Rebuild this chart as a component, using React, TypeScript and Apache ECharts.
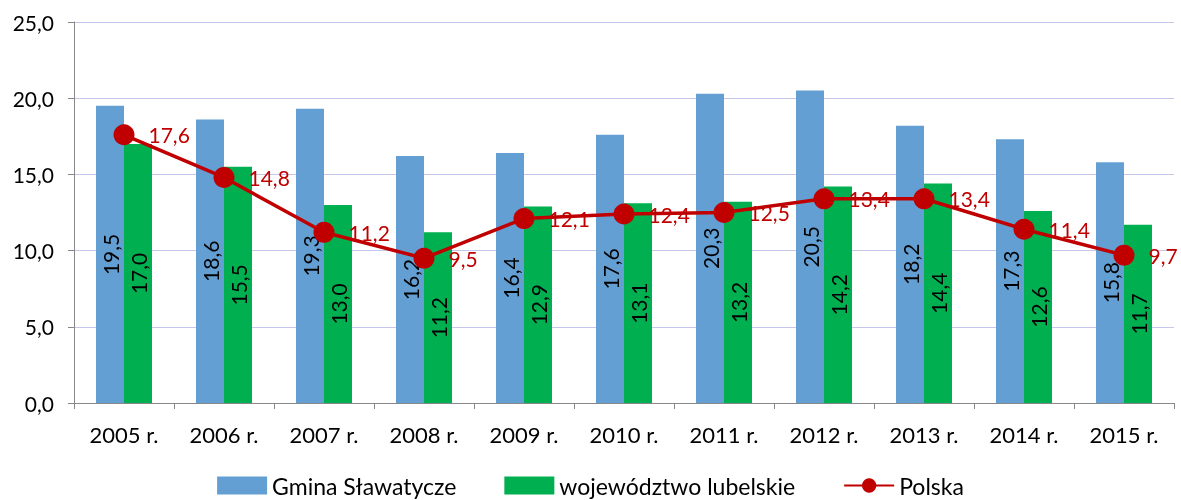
import React, { useEffect, useRef } from "react";
import * as echarts from "echarts";

const categories = ["2005 r.", "2006 r.", "2007 r.", "2008 r.", "2009 r.", "2010 r.", "2011 r.", "2012 r.", "2013 r.", "2014 r.", "2015 r."];
const gmina = [19.5, 18.6, 19.3, 16.2, 16.4, 17.6, 20.3, 20.5, 18.2, 17.3, 15.8];
const wojewodztwo = [17.0, 15.5, 13.0, 11.2, 12.9, 13.1, 13.2, 14.2, 14.4, 12.6, 11.7];
const polska = [17.6, 14.8, 11.2, 9.5, 12.1, 12.4, 12.5, 13.4, 13.4, 11.4, 9.7];

const fmt = (v: number) => v.toFixed(1).replace(".", ",");
const FONT = "Lato, 'Open Sans', sans-serif";

export default function App() {
  const ref = useRef<HTMLDivElement>(null);
  useEffect(() => {
    if (!ref.current) return;
    const chart = echarts.init(ref.current, null, { renderer: "svg" });
    const barLabel = {
      show: true,
      position: "inside",
      rotate: 90,
      color: "#000",
      fontSize: 21,
      fontFamily: FONT,
      formatter: (p: any) => fmt(p.value),
    };
    chart.setOption({
      animation: false,
      textStyle: { fontFamily: FONT },
      grid: { left: 74, right: 7, top: 22, bottom: 97, containLabel: false },
      legend: {
        top: 474,
        left: "center",
        padding: 0,
        itemWidth: 50,
        itemHeight: 18,
        itemGap: 48,
        textStyle: { fontSize: 23, color: "#000", fontFamily: FONT },
        data: [
          { name: "Gmina Sławatycze", icon: "rect" },
          { name: "województwo lubelskie", icon: "rect" },
          { name: "Polska" },
        ],
      },
      xAxis: {
        type: "category",
        data: categories,
        axisLine: { lineStyle: { color: "#888", width: 1 } },
        axisTick: { show: true, length: 6, lineStyle: { color: "#888" } },
        axisLabel: { color: "#000", fontSize: 22, margin: 20, fontFamily: FONT },
      },
      yAxis: {
        type: "value",
        min: 0,
        max: 25,
        interval: 5,
        axisLine: { show: true, lineStyle: { color: "#888", width: 1 } },
        axisTick: { show: true, length: 6, lineStyle: { color: "#888" } },
        axisLabel: { color: "#000", fontSize: 21, margin: 20, formatter: (v: number) => fmt(v), fontFamily: FONT },
        splitLine: { lineStyle: { color: "#C6C6EC", width: 1 } },
      },
      series: [
        {
          name: "Gmina Sławatycze",
          type: "bar",
          data: gmina,
          barWidth: 28,
          barGap: "0%",
          itemStyle: { color: "#639FD3" },
          label: barLabel,
        },
        {
          name: "województwo lubelskie",
          type: "bar",
          data: wojewodztwo,
          barWidth: 28,
          barGap: "0%",
          itemStyle: { color: "#00B050" },
          label: barLabel,
        },
        {
          name: "Polska",
          type: "line",
          data: polska,
          symbol: "circle",
          symbolSize: 21,
          itemStyle: { color: "#C00000" },
          lineStyle: { color: "#C00000", width: 3.5 },
          z: 5,
          label: {
            show: true,
            position: "right",
            distance: 14,
            color: "#C00000",
            fontSize: 21,
            fontFamily: FONT,
            formatter: (p: any) => fmt(p.value),
          },
        },
      ],
    });
    return () => chart.dispose();
  }, []);
  return <div ref={ref} style={{ position: "fixed", left: 0, top: 0, width: 1181, height: 500 }} />;
}
